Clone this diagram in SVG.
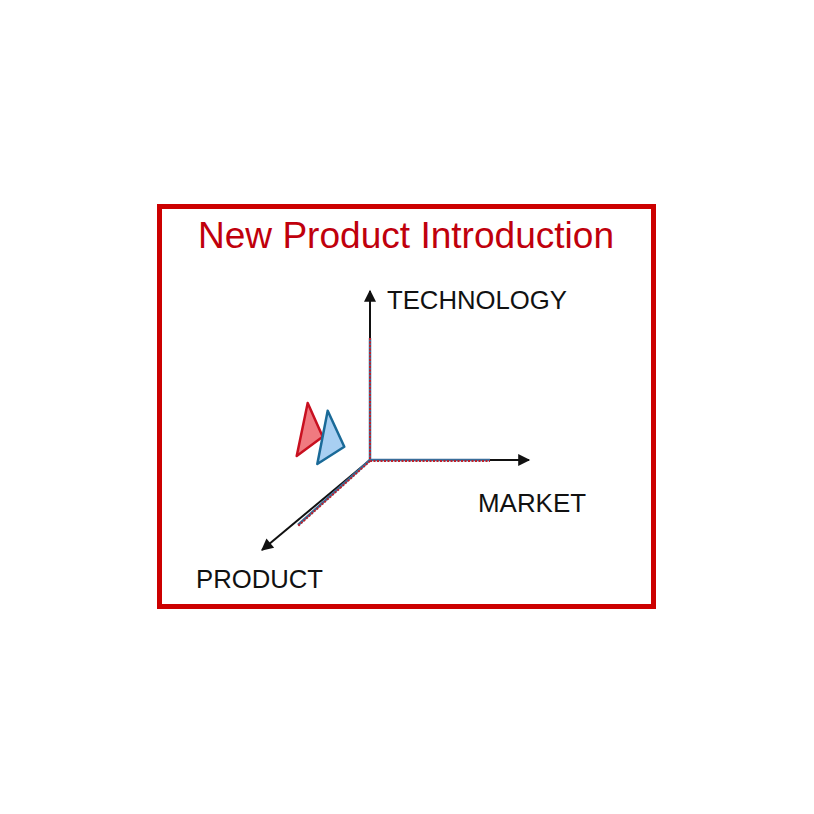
<svg xmlns="http://www.w3.org/2000/svg" width="814" height="814" viewBox="0 0 814 814">
<style>
.lbl{font-family:"Liberation Sans",Arial,sans-serif;font-size:26px;fill:#111}
.axis{stroke:#111;stroke-width:2;fill:none}
.ov{stroke:#c0202a;stroke-width:2;stroke-dasharray:2 1.5;fill:none}
.ovb{stroke:#3a6d9a;stroke-width:2.5;fill:none}
</style>
<defs>
<marker id="ah2" viewBox="0 0 10 10" refX="9" refY="5" markerWidth="18" markerHeight="12" orient="auto" markerUnits="userSpaceOnUse">
<path d="M0,0 L10,5 L0,10 z" fill="#111"/>
</marker>
</defs>
<rect width="814" height="814" fill="#fff"/>
<g id="frame">
<rect x="159.5" y="206.5" width="494" height="400" fill="none" stroke="#cc0000" stroke-width="5"/>
<text x="198" y="248" textLength="416" lengthAdjust="spacingAndGlyphs" font-family="Liberation Sans,Arial,sans-serif" font-size="36" fill="#c0000c">New Product Introduction</text>
</g>
<g id="connectors">
<line class="axis" x1="370" y1="460" x2="370" y2="291" marker-end="url(#ah2)"/>
<line class="axis" x1="370" y1="460" x2="529" y2="460" marker-end="url(#ah2)"/>
<line class="axis" x1="370" y1="460" x2="262" y2="550" marker-end="url(#ah2)"/>
<line class="ovb" x1="370" y1="338" x2="370" y2="460"/>
<line class="ov" x1="370" y1="338" x2="370" y2="460"/>
<line class="ovb" x1="370" y1="460" x2="490" y2="460"/>
<line class="ov" x1="370" y1="461" x2="490" y2="461"/>
<line class="ovb" x1="370" y1="460" x2="298" y2="525"/>
<line class="ov" x1="370" y1="461" x2="298" y2="526"/>
</g>
<g id="tri-red">
<polygon points="307.7,403 296.7,456 322.7,436.7" fill="#f07a80" stroke="#c81020" stroke-width="2.5" stroke-linejoin="round"/>
</g>
<g id="tri-blue">
<polygon points="327.7,410.7 317.3,464 344.3,446.7" fill="#a8cff2" stroke="#1a6a98" stroke-width="2.5" stroke-linejoin="round"/>
</g>
<g id="technology"><text class="lbl" x="387" y="309" textLength="180" lengthAdjust="spacingAndGlyphs">TECHNOLOGY</text></g>
<g id="market"><text class="lbl" x="478" y="512" textLength="108" lengthAdjust="spacingAndGlyphs">MARKET</text></g>
<g id="product"><text class="lbl" x="196" y="588" textLength="127" lengthAdjust="spacingAndGlyphs">PRODUCT</text></g>
</svg>
